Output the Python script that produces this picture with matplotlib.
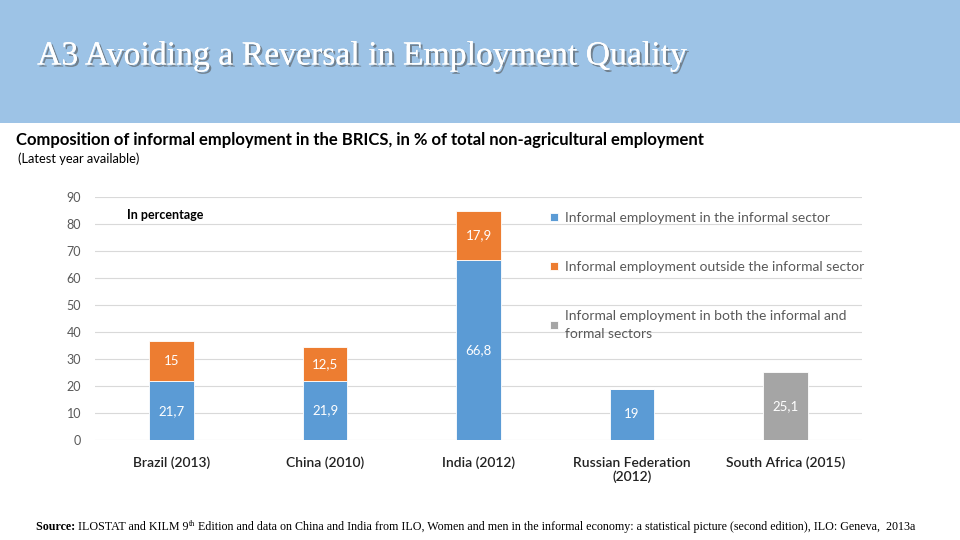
import matplotlib
matplotlib.use('Agg')
import matplotlib.pyplot as plt
import matplotlib.patheffects as pe
from matplotlib.patches import Rectangle
import numpy as np

categories = ['Brazil (2013)', 'China (2010)', 'India (2012)',
              'Russian Federation\n(2012)', 'South Africa (2015)']
in_sector = [21.7, 21.9, 66.8, 19.0, 0.0]
outside_sector = [15.0, 12.5, 17.9, 0.0, 0.0]
both_sectors = [0.0, 0.0, 0.0, 0.0, 25.1]
series_names = ['Informal employment in the informal sector',
                'Informal employment outside the informal sector',
                'Informal employment in both the informal and\nformal sectors']
yticks = [0, 10, 20, 30, 40, 50, 60, 70, 80, 90]

BLUE = '#5B9BD5'
ORANGE = '#ED7D31'
GRAY = '#A5A5A5'
HEADER = '#9DC3E6'
SANS = ['Lato', 'DejaVu Sans']
SERIF = ['Liberation Serif', 'DejaVu Serif']

plt.rcParams['font.family'] = SANS

W, H = 960, 540
fig = plt.figure(figsize=(9.6, 5.4), dpi=100)
fig.patch.set_facecolor('white')

# header band
fig.patches.append(Rectangle((0, 1 - 123 / H), 1, 123 / H, transform=fig.transFigure,
                             facecolor=HEADER, edgecolor='none', zorder=0))
fig.text(37 / W, 1 - 56 / H, 'A3 Avoiding a Reversal in Employment Quality',
         family=SERIF, fontsize=24.3, color='white', va='center', ha='left',
         path_effects=[pe.withSimplePatchShadow(offset=(1.5, -1.5), shadow_rgbFace='#555555', alpha=0.6),
                       pe.Normal()])

fig.text(16 / W, 1 - 140 / H,
         'Composition of informal employment in the BRICS, in % of total non-agricultural employment',
         fontsize=12, fontweight='bold', color='black', va='center', ha='left')
fig.text(18 / W, 1 - 159 / H, '(Latest year available)', fontsize=9.3, color='black',
         va='center', ha='left')

ax = fig.add_axes([95 / W, 100 / H, (862 - 95) / W, (440 - 197) / H])
x = np.arange(len(categories))
bw = 0.29
b1 = ax.bar(x, in_sector, bw, color=BLUE, edgecolor='white', linewidth=0.6, zorder=3,
            label=series_names[0])
b2 = ax.bar(x, outside_sector, bw, bottom=in_sector, color=ORANGE, edgecolor='white',
            linewidth=0.6, zorder=3, label=series_names[1])
b3 = ax.bar(x, both_sectors, bw, color=GRAY, edgecolor='white', linewidth=0.6, zorder=3,
            label=series_names[2])

def fmt(v):
    s = ('%.1f' % v).replace('.', ',')
    return s[:-2] if s.endswith(',0') else s

for i in range(len(categories)):
    if in_sector[i] > 0:
        ax.text(x[i], in_sector[i] / 2, fmt(in_sector[i]), ha='center', va='center',
                color='white', fontsize=9.5, zorder=4)
    if outside_sector[i] > 0:
        ax.text(x[i], in_sector[i] + outside_sector[i] / 2, fmt(outside_sector[i]),
                ha='center', va='center', color='white', fontsize=9.5, zorder=4)
    if both_sectors[i] > 0:
        ax.text(x[i], both_sectors[i] / 2, fmt(both_sectors[i]), ha='center', va='center',
                color='white', fontsize=9.5, zorder=4)

ax.set_xlim(-0.5, len(categories) - 0.5)
ax.set_ylim(0, 90)
ax.set_yticks(yticks)
ax.set_xticks(x)
ax.set_xticklabels(categories, fontsize=10, fontweight='semibold', color='#222222')
ax.tick_params(axis='y', labelsize=9, labelcolor='#595959', length=0, pad=10)
ax.tick_params(axis='x', length=0, pad=12)
ax.grid(axis='y', color='#D9D9D9', linewidth=0.8, zorder=0)
for s in ax.spines.values():
    s.set_visible(False)

fig.text(127 / W, 1 - 215 / H, 'In percentage', fontsize=9,
         fontweight='bold', color='black', ha='left', va='center')

leg = ax.legend(handles=[b1, b2, b3], loc='upper left',
                bbox_to_anchor=(550 / W, 1 - 212 / H), bbox_transform=fig.transFigure,
                frameon=False, fontsize=10, labelcolor='#595959',
                handlelength=0.55, handleheight=0.55, handletextpad=0.5,
                labelspacing=2.68, borderaxespad=0, borderpad=0)
for t in leg.get_texts():
    t.set_linespacing(1.55)

# source line with superscript
fig.canvas.draw()
r = fig.canvas.get_renderer()
parts = [('Source: ', 'bold', 8.65, 0), ('ILOSTAT and KILM 9', 'normal', 8.65, 0),
         ('th', 'normal', 5.8, 3),
         (' Edition and data on China and India from ILO, Women and men in the informal economy: '
          'a statistical picture (second edition), ILO: Geneva,  2013a', 'normal', 8.65, 0)]
xp = 36
for txt, wt, fs, dy in parts:
    t = fig.text(xp / W, (540 - 527 + dy) / H, txt, family=SERIF, fontweight=wt,
                 fontsize=fs, color='black', ha='left', va='center')
    xp = t.get_window_extent(renderer=r).x1

fig.savefig('out.png', dpi=100)
